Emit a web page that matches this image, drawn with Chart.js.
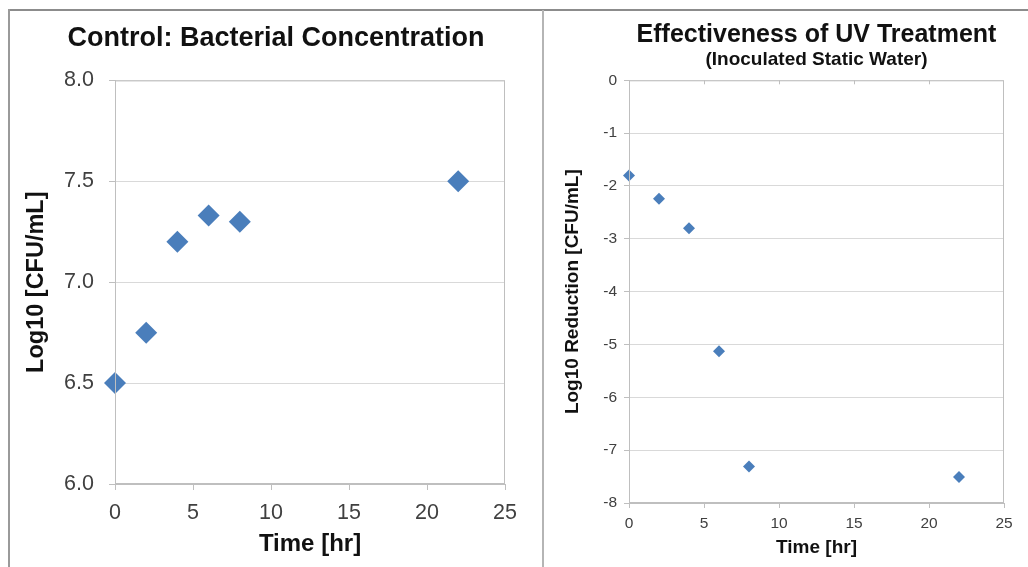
<!DOCTYPE html>
<html>
<head>
<meta charset="utf-8">
<script src="https://cdn.jsdelivr.net/npm/chart.js@4/dist/chart.umd.min.js"></script>
<style>
  body { margin: 0; background: #fff; width: 1028px; height: 567px; overflow: hidden; position: relative; }
  #topline { position: absolute; left: 8px; top: 9px; width: 1020px; height: 0; border-top: 2px solid #8c8c8c; }
  #leftline { position: absolute; left: 8px; top: 9px; width: 0; height: 560px; border-left: 2px solid #9a9a9a; }
  #sepline { position: absolute; left: 542px; top: 10px; width: 0; height: 560px; border-left: 2px solid #b5b5b5; }
  #c1 { position: absolute; left: 10px; top: 11px; }
  #c2 { position: absolute; left: 544px; top: 11px; }
</style>
</head>
<body>
<div id="topline"></div>
<div id="leftline"></div>
<div id="sepline"></div>
<canvas id="c1" width="532" height="556"></canvas>
<canvas id="c2" width="484" height="556"></canvas>
<script>
const hours = [0, 2, 4, 6, 8, 22];
const controlLog = [6.5, 6.75, 7.2, 7.33, 7.3, 7.5];
const uvReduction = [-1.8, -2.24, -2.8, -5.13, -7.31, -7.51];

const FONT = "'Liberation Sans', Arial, sans-serif";
const BLUE = '#4a7ebb';
const LINE = '#bfbfbf';

Chart.defaults.font.family = FONT;
Chart.defaults.animation = false;

// grey box around the plot area
const frame = {
    id: 'frame',
    afterDraw(chart) {
        const a = chart.chartArea, ctx = chart.ctx;
        ctx.save();
        ctx.strokeStyle = LINE;
        ctx.lineWidth = 1;
        ctx.strokeRect(a.left + 0.5, a.top + 0.5, a.right - a.left - 1, a.bottom - a.top - 1);
        ctx.restore();
    }
};

// small tick marks hanging from the top edge (right chart)
const topTicks = {
    id: 'topTicks',
    afterDraw(chart) {
        const xs = chart.scales.x, a = chart.chartArea, ctx = chart.ctx;
        ctx.save();
        ctx.strokeStyle = LINE;
        ctx.lineWidth = 1;
        xs.ticks.slice(1, -1).forEach(t => {
            const px = Math.round(xs.getPixelForValue(t.value)) + 0.5;
            ctx.beginPath();
            ctx.moveTo(px, a.top);
            ctx.lineTo(px, a.top + 4);
            ctx.stroke();
        });
        ctx.restore();
    }
};

new Chart(document.getElementById('c1'), {
    type: 'scatter',
    data: {
        datasets: [{
            data: hours.map((h, i) => ({x: h, y: controlLog[i]})),
            pointStyle: 'rectRot',
            pointRadius: 11,
            backgroundColor: BLUE,
            borderColor: BLUE,
            borderWidth: 0,
            clip: false
        }]
    },
    options: {
        responsive: false,
        layout: {padding: 0},
        plugins: {
            legend: {display: false},
            tooltip: {enabled: false},
            title: {
                display: true,
                text: 'Control: Bacterial Concentration',
                color: '#111',
                font: {size: 27, weight: 'bold', lineHeight: 1.2},
                padding: {top: 11, bottom: 26}
            }
        },
        scales: {
            x: {
                type: 'linear', min: 0, max: 25,
                ticks: {stepSize: 5, color: '#404040', font: {size: 21.5}, padding: 10, maxRotation: 0},
                grid: {drawOnChartArea: false, drawTicks: true, tickLength: 6, color: LINE},
                border: {color: LINE},
                title: {display: true, text: 'Time [hr]', color: '#111', font: {size: 24, weight: 'bold', lineHeight: 1.2}, padding: {top: 8, bottom: 8}},
                afterFit: s => { s.height = 83; }
            },
            y: {
                min: 6, max: 8,
                ticks: {stepSize: 0.5, color: '#404040', font: {size: 21.5}, padding: 15, callback: v => v.toFixed(1)},
                grid: {color: '#d9d9d9', tickLength: 6, tickColor: LINE},
                border: {color: LINE},
                title: {display: true, text: 'Log10 [CFU/mL]', color: '#111', font: {size: 23.5, weight: 'bold', lineHeight: 1.2}, padding: {top: 12, bottom: 12}},
                afterFit: s => { s.width = 105; }
            },
            // empty right-hand axis that only reserves the margin
            yRight: {
                position: 'right', min: 6, max: 8,
                ticks: {display: false},
                grid: {display: false},
                border: {display: false},
                afterFit: s => { s.width = 37; }
            }
        }
    },
    plugins: [frame]
});

new Chart(document.getElementById('c2'), {
    type: 'scatter',
    data: {
        datasets: [{
            data: hours.map((h, i) => ({x: h, y: uvReduction[i]})),
            pointStyle: 'rectRot',
            pointRadius: 6,
            backgroundColor: BLUE,
            borderColor: BLUE,
            borderWidth: 0,
            clip: false
        }]
    },
    options: {
        responsive: false,
        layout: {padding: {left: 0, right: 24, top: 0, bottom: 0}},
        plugins: {
            legend: {display: false},
            tooltip: {enabled: false},
            title: {
                display: true,
                fullSize: false,
                text: 'Effectiveness of UV Treatment',
                color: '#111',
                font: {size: 25, weight: 'bold', lineHeight: 1.1},
                padding: {top: 10, bottom: 0}
            },
            subtitle: {
                display: true,
                fullSize: false,
                text: '(Inoculated Static Water)',
                color: '#111',
                font: {size: 19, weight: 'bold', lineHeight: 1.2},
                padding: {top: 0, bottom: 9}
            }
        },
        scales: {
            x: {
                type: 'linear', min: 0, max: 25,
                ticks: {stepSize: 5, color: '#404040', font: {size: 15.5}, padding: 6, maxRotation: 0},
                grid: {drawOnChartArea: false, drawTicks: true, tickLength: 5, color: LINE},
                border: {color: LINE},
                title: {display: true, text: 'Time [hr]', color: '#111', font: {size: 19, weight: 'bold', lineHeight: 1.2}, padding: {top: 8, bottom: 8}},
                afterFit: s => { s.height = 64; }
            },
            y: {
                min: -8, max: 0,
                ticks: {stepSize: 1, color: '#404040', font: {size: 15.5}, padding: 7},
                grid: {color: '#d9d9d9', tickLength: 5, tickColor: LINE},
                border: {color: LINE},
                title: {display: true, text: 'Log10 Reduction [CFU/mL]', color: '#111', font: {size: 19, weight: 'bold', lineHeight: 1.2}, padding: {top: 17, bottom: 17}},
                afterFit: s => { s.width = 85; }
            }
        }
    },
    plugins: [frame, topTicks]
});
</script>
</body>
</html>
